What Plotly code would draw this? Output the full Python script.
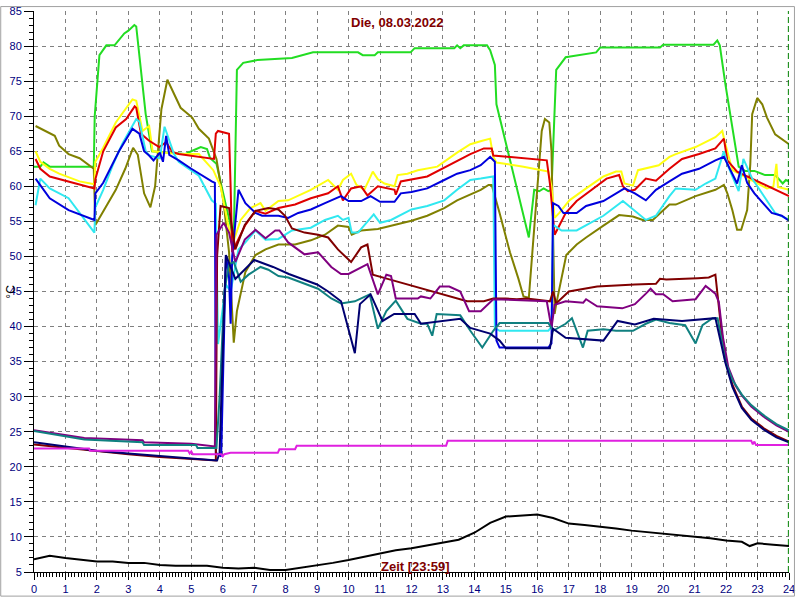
import plotly.graph_objects as go

# ---------------- data (hour of day, °C) ----------------
green_t = [0, 0.2, 0.3, 0.5, 1.9, 1.93, 2.08, 2.3, 2.56, 2.7, 2.87, 3.0, 3.19, 3.25, 3.55, 3.75, 4.8, 5.0, 5.3, 5.5, 5.6, 5.8, 6.2, 6.35, 6.45, 6.65, 7.1, 8.2, 8.87, 10.3, 10.45, 10.83, 10.93, 11.97, 12.1, 13.36, 13.45, 13.55, 13.66, 14.4, 14.5, 14.65, 14.7, 15.73, 15.9, 16.06, 16.2, 16.35, 16.45, 16.6, 16.9, 17.87, 18.0, 19.9, 20.0, 21.6, 21.72, 21.8, 21.98, 22.4, 22.6, 22.9, 23.24, 23.56, 23.8, 23.9, 24]
green_v = [62.8, 62.8, 63.4, 62.8, 62.8, 70, 78.7, 80.1, 80.1, 80.8, 81.8, 82.2, 83, 82.8, 70.3, 65, 64.6, 65, 65.6, 65.3, 64, 63.2, 55.2, 52.4, 76.6, 77.6, 78, 78.3, 79.1, 79.1, 78.7, 78.7, 79.1, 79.1, 79.7, 79.7, 80.1, 79.7, 80.1, 80.1, 79.4, 77.3, 71.7, 52.7, 59.5, 59.3, 59.7, 59.3, 59.5, 76.6, 78.4, 79.1, 79.8, 79.8, 80.2, 80.2, 80.8, 80.1, 74.5, 62.8, 62.2, 62.2, 61.6, 61.6, 60.4, 60.9, 60.7]

yellow_t = [0.05, 0.2, 0.5, 0.8, 1.45, 1.92, 1.95, 2.2, 2.6, 2.93, 3.13, 3.25, 3.45, 3.66, 3.77, 4.6, 5.24, 5.7, 5.93, 6.3, 6.57, 6.88, 7.2, 7.36, 7.77, 8.08, 8.8, 9.35, 9.66, 9.82, 10.08, 10.25, 10.5, 10.77, 10.93, 11.14, 11.46, 11.56, 11.87, 12.2, 12.82, 13.45, 13.87, 14.25, 14.5, 14.6, 14.7, 15.56, 16.35, 16.45, 16.55, 16.7, 17.02, 17.55, 18.1, 18.5, 18.67, 18.77, 19.04, 19.2, 19.45, 19.86, 20.2, 20.4, 21.03, 21.66, 21.88, 21.95, 22.2, 22.7, 23.03, 23.3, 23.5, 23.6, 23.65, 24]
yellow_v = [65, 63.5, 62.5, 61.8, 60.7, 60.3, 63.5, 65.5, 69.1, 71.2, 72.4, 72.2, 67.9, 68.6, 65, 64.6, 64.6, 62.3, 60, 51.6, 55.2, 56.9, 57.6, 56.5, 57.9, 58, 59.5, 60.9, 59.5, 60.9, 61.8, 60.2, 59.5, 62.1, 61, 60.4, 60, 61.6, 61.8, 62.3, 62.8, 64.8, 66, 66.5, 66.8, 64.2, 63.4, 62.8, 62.1, 60, 55.5, 56.2, 58, 59.7, 61.4, 62.1, 62.1, 60.4, 60.1, 62.3, 62.6, 63, 64.2, 64.6, 65.6, 67, 67.9, 66.5, 62.3, 61.1, 60.4, 59.7, 59.9, 63.2, 59.9, 59.5]

red_t = [0.05, 0.2, 0.5, 1.1, 1.92, 1.95, 2.2, 2.6, 2.93, 3.2, 3.25, 3.4, 3.66, 3.98, 4.2, 4.4, 4.6, 5.72, 5.78, 5.85, 6.2, 6.25, 6.3, 6.72, 7.04, 7.36, 7.77, 8.3, 8.8, 9.35, 9.66, 9.82, 10.08, 10.4, 10.6, 10.93, 11.46, 11.5, 11.66, 12.5, 13.45, 13.87, 14.3, 14.55, 14.6, 16.3, 16.4, 16.55, 16.7, 16.9, 17.25, 17.77, 18.2, 18.6, 18.72, 18.88, 19.1, 19.45, 19.77, 20.2, 20.6, 21.14, 21.66, 21.93, 22.04, 22.35, 23.03, 23.56, 24]
red_v = [63.9, 62.5, 61.4, 60.7, 59.7, 61, 65, 68.4, 69.6, 71.4, 71.2, 67.5, 66.5, 65.6, 66.3, 64.9, 64.6, 63.9, 67.5, 67.9, 67.5, 60, 50.6, 54.5, 56.5, 56.1, 56.9, 57.4, 58.3, 59, 60, 58, 59.7, 60, 58.7, 60, 59.5, 58.8, 60.7, 61.4, 63.7, 64.6, 65.4, 65.4, 64.4, 63.7, 60.4, 53.1, 54.4, 56.2, 57.9, 59.7, 61.1, 61.6, 60, 59.3, 59.5, 61.1, 60.8, 62.5, 63.9, 64.6, 65.4, 66.8, 63.7, 62.1, 60.7, 59.5, 58.6]

blue_t = [0.05, 0.5, 1.1, 1.92, 1.95, 2.2, 2.7, 3.13, 3.35, 3.5, 3.66, 3.8, 4.0, 4.1, 4.2, 4.3, 4.6, 5.0, 5.65, 5.75, 5.78, 5.95, 6.1, 6.2, 6.25, 6.3, 6.5, 6.72, 7.04, 7.25, 7.77, 8.08, 8.4, 8.8, 9.25, 9.76, 10.0, 10.4, 10.7, 11.0, 11.46, 11.66, 12.0, 12.5, 13.04, 13.45, 13.87, 14.2, 14.5, 14.65, 14.7, 14.8, 16.35, 16.45, 16.5, 16.67, 16.83, 17.25, 17.55, 18.1, 18.77, 19.1, 19.45, 19.77, 20.2, 20.6, 21.14, 21.66, 21.93, 22.35, 22.5, 22.67, 22.9, 23.45, 23.77, 24]
blue_v = [61.1, 58.3, 56.6, 55.2, 59, 60.5, 65, 68.2, 67.5, 65, 64.4, 63.7, 64.8, 63.5, 67.2, 64.5, 63.7, 62.5, 60.7, 60.5, 22, 21.5, 50.2, 47, 40.4, 50, 59.5, 57.6, 56.2, 55.8, 55.8, 55.5, 56.2, 56.7, 57.6, 58.6, 57.9, 57.9, 58.6, 57.8, 57.8, 59, 59.2, 59.7, 60.9, 61.8, 62.3, 63, 64.2, 63.5, 38, 37, 37, 37.6, 57.6, 57.2, 56.2, 56.2, 57.2, 57.9, 59.7, 59, 58, 59.5, 60.7, 61.8, 62.5, 63.7, 64.2, 60.4, 63, 60.5, 59, 56.2, 55.8, 55.1]

cyan_t = [0.05, 0.2, 0.5, 1.1, 1.92, 1.95, 2.2, 2.5, 2.8, 3.1, 3.25, 3.35, 3.55, 3.66, 4.0, 4.15, 4.45, 4.6, 5.24, 5.65, 5.78, 5.85, 6.1, 6.25, 6.5, 6.72, 7.04, 7.36, 7.77, 8.2, 8.8, 9.25, 9.66, 9.82, 10.0, 10.1, 10.3, 10.8, 11.0, 11.35, 12.0, 12.5, 13.04, 13.45, 13.87, 14.2, 14.5, 14.6, 14.65, 14.8, 16.35, 16.45, 16.5, 16.77, 17.25, 17.55, 18.1, 18.72, 19.1, 19.45, 19.77, 20.2, 20.4, 21.03, 21.35, 21.66, 21.93, 22.07, 22.4, 22.55, 22.83, 23.24, 23.56, 24]
cyan_v = [57.3, 61.1, 59.7, 58.3, 53.4, 57, 59.5, 63, 66, 68.5, 69.6, 69.2, 65, 64.4, 64, 68.5, 64.6, 63.5, 61.5, 58, 57.5, 37.5, 46, 45, 51, 52, 53.7, 52.4, 52.5, 53.7, 54.1, 55.2, 55.8, 55.2, 55.5, 53.4, 53.4, 56, 54.8, 55.2, 56.7, 57.2, 58, 59.5, 60.9, 61.1, 61.4, 61.4, 39.8, 39.4, 39.4, 40, 54.5, 53.7, 53.7, 54.4, 55.8, 57.9, 56.5, 55.2, 55.8, 58.6, 59.7, 59.5, 60.4, 61.1, 65, 62.8, 59.3, 63.9, 61.1, 58.3, 56.2, 55.2]

olive_t = [0.05, 0.5, 0.66, 0.8, 1.1, 1.45, 1.9, 1.95, 2.2, 2.6, 2.9, 3.15, 3.3, 3.5, 3.7, 3.85, 4.05, 4.24, 4.66, 5.03, 5.24, 5.56, 5.8, 6.03, 6.2, 6.35, 6.45, 6.72, 7.04, 7.36, 7.77, 8.3, 8.8, 9.25, 9.66, 10.0, 10.1, 10.4, 10.93, 11.46, 12.0, 12.5, 13.04, 13.45, 13.87, 14.2, 14.45, 14.55, 14.8, 15.13, 15.4, 15.56, 15.73, 15.88, 16.04, 16.14, 16.24, 16.38, 16.45, 16.55, 16.6, 16.77, 16.92, 17.25, 17.55, 18.1, 18.6, 19.04, 19.35, 19.67, 20.2, 20.4, 21.03, 21.66, 21.93, 22.04, 22.2, 22.35, 22.48, 22.67, 22.77, 22.83, 22.99, 23.15, 23.3, 23.56, 24]
olive_v = [68.6, 67.5, 67.2, 65.8, 64.6, 64, 62.5, 54.5, 56.5, 59.5, 62.5, 65.5, 64.5, 59, 57, 60, 71, 75.2, 71.2, 69.8, 68.2, 66.8, 63.9, 57.6, 50.6, 37.7, 42.2, 47.8, 50.2, 51, 51.7, 51.7, 52.3, 53.1, 54.4, 54.2, 53.1, 53.7, 53.9, 54.5, 55.1, 55.8, 56.9, 58, 58.8, 59.5, 60.2, 60.2, 56.2, 50.6, 46.8, 44.3, 44.1, 53, 62.3, 67.9, 69.6, 69.1, 65, 41.8, 43.2, 46.8, 50.2, 51.7, 52.7, 54.4, 55.9, 55.7, 55.2, 55.2, 57.4, 57.4, 58.6, 59.5, 60.2, 59, 56.6, 53.8, 53.8, 56.6, 63.2, 70.3, 72.6, 71.7, 69.8, 67.4, 66]

maroon_t = [0, 1, 2, 3, 4, 5, 5.78, 5.82, 5.93, 6.2, 6.4, 6.7, 7.04, 7.45, 7.77, 7.98, 8.2, 8.6, 9.03, 9.35, 9.66, 10.08, 10.4, 10.6, 10.77, 11.24, 13.77, 14.3, 14.6, 15.0, 15.35, 15.66, 16.4, 16.5, 16.6, 17.0, 17.45, 17.9, 19.1, 19.77, 19.9, 20.1, 21.1, 21.45, 21.66, 21.72, 21.85, 22.0, 22.2, 22.5, 22.8, 23.2, 23.6, 24]
maroon_v = [23.2, 22.7, 22.2, 21.8, 21.4, 21.1, 20.9, 50, 57.2, 56.9, 51, 54.5, 56.5, 56.9, 56.7, 55.8, 54, 53.4, 53.1, 52.7, 51, 49.2, 51.3, 51.7, 47.4, 46.8, 43.6, 43.6, 44, 44, 43.9, 44, 43.6, 45, 43.3, 45, 45.4, 45.7, 46, 46.1, 46.8, 46.7, 46.9, 47, 47.4, 44.6, 39.5, 35, 31.7, 28.6, 26.9, 25.5, 24.4, 23.6]

purple_t = [0, 0.9, 1.6, 3.45, 3.5, 5.0, 5.7, 5.75, 5.8, 6.03, 6.2, 6.4, 6.7, 7.04, 7.36, 7.67, 7.8, 8.08, 8.6, 9.03, 9.45, 9.76, 10.0, 10.6, 10.93, 11.2, 11.35, 11.5, 12.2, 12.3, 12.6, 12.9, 13.2, 13.55, 13.83, 14.2, 14.6, 16.3, 16.45, 16.55, 16.9, 17.46, 17.55, 17.9, 18.7, 19.1, 19.45, 19.6, 19.77, 20.0, 20.3, 21.03, 21.35, 21.66, 21.77, 21.9, 22.07, 22.3, 22.5, 22.8, 23.24, 23.6, 24]
purple_v = [25.2, 24.6, 24.1, 23.8, 23.5, 23.3, 22.9, 22.9, 53.1, 54.8, 53.4, 49.2, 52.4, 53.8, 52.6, 53.7, 53.7, 52, 50.3, 50.6, 48.5, 47.5, 47.5, 48.9, 44.6, 47.4, 47.2, 44, 44, 44.3, 44, 45.7, 45.7, 45, 42.2, 42.2, 43.9, 43.6, 39.8, 43.1, 43.6, 43.4, 43.9, 42.9, 42.6, 43.2, 44.7, 45.4, 44.6, 44.6, 43.6, 43.9, 45.8, 44.7, 43.5, 38.5, 34.2, 31.6, 30.2, 28.6, 27.0, 25.9, 25.0]

teal_t = [0, 0.9, 1.6, 3.45, 3.5, 5.15, 5.2, 5.8, 5.9, 6.05, 6.2, 6.35, 6.57, 6.82, 7.2, 7.45, 7.77, 8.08, 8.6, 9.03, 9.45, 9.76, 10.2, 10.67, 10.93, 11.2, 11.5, 11.87, 12.3, 12.5, 12.66, 12.8, 13.55, 13.87, 14.25, 14.6, 14.8, 16.35, 16.5, 16.9, 17.1, 17.45, 17.6, 18.1, 18.5, 19.04, 19.45, 19.77, 20.2, 20.7, 21.03, 21.25, 21.57, 21.73, 21.85, 21.98, 22.2, 22.5, 22.8, 23.24, 23.6, 24]
teal_v = [25.1, 24.4, 23.9, 23.5, 23.1, 23.1, 22.7, 22.7, 30, 45, 48.9, 49.2, 46.4, 47.4, 48.5, 48.1, 47.2, 47, 46.1, 45.4, 44, 43.3, 43.6, 44.6, 39.7, 42.2, 43.7, 41.1, 40.4, 40.4, 38.7, 41.8, 41.6, 39.4, 37, 39.4, 40.5, 40.5, 39.4, 40.4, 41.2, 37, 39.4, 39.6, 39.4, 39.4, 40.4, 41, 40.5, 40.2, 37.6, 40.2, 41.2, 41.2, 38.2, 35.0, 32.4, 30.3, 28.8, 27.2, 26.1, 25.2]

navy_t = [0, 1, 2, 3, 4, 5, 5.82, 5.9, 6.1, 6.4, 7.0, 7.6, 8.1, 9.0, 9.35, 9.76, 10.2, 10.36, 10.7, 11.08, 11.45, 12.1, 12.3, 13.55, 13.87, 14.5, 14.8, 15.0, 16.4, 16.5, 16.9, 18.1, 18.55, 19.1, 19.7, 20.6, 21.66, 21.8, 21.98, 22.2, 22.5, 22.8, 23.2, 23.6, 24]
navy_v = [23.5, 22.9, 22.3, 21.9, 21.5, 21.2, 20.9, 22, 50.2, 46.8, 49.5, 48.5, 47.5, 46, 45, 43.6, 36.2, 43.2, 44.6, 40.8, 41.8, 41.8, 40.4, 41.1, 39.8, 39, 38, 36.9, 36.9, 39.7, 38.4, 38, 40.8, 40.3, 41.1, 40.8, 41.2, 38.5, 34.8, 31.4, 28.4, 26.7, 25.3, 24.2, 23.5]

magenta_t = [0, 1.75, 1.78, 4.9, 4.95, 5.0, 5.05, 5.95, 6.0, 6.05, 6.25, 7.75, 7.8, 8.3, 8.35, 13.1, 13.15, 22.8, 22.85, 22.9, 22.95, 24]
magenta_v = [22.6, 22.6, 22.3, 22.3, 21.9, 22.2, 21.8, 21.8, 21.5, 21.8, 22.0, 22.0, 22.5, 22.5, 23.0, 23.0, 23.7, 23.7, 23.2, 23.6, 23.1, 23.1]

black_t = [0, 0.5, 1, 1.5, 2, 2.5, 3, 3.5, 4, 4.5, 5, 5.5, 6, 6.5, 7, 7.5, 8, 8.5, 9, 9.5, 10, 10.5, 11, 11.5, 12, 12.5, 13, 13.5, 14, 14.5, 15, 15.5, 16, 16.5, 17, 17.5, 18, 18.5, 19, 19.5, 20, 20.5, 21, 21.5, 22, 22.5, 22.75, 23, 23.5, 24]
black_v = [6.8, 7.3, 7.0, 6.8, 6.5, 6.5, 6.3, 6.3, 6.0, 5.9, 5.9, 5.9, 5.6, 5.5, 5.6, 5.3, 5.3, 5.6, 5.9, 6.3, 6.7, 7.2, 7.7, 8.1, 8.4, 8.8, 9.1, 9.6, 10.6, 12.0, 12.9, 13.1, 13.2, 12.7, 11.9, 11.7, 11.5, 11.2, 10.9, 10.7, 10.5, 10.3, 10.1, 9.8, 9.5, 9.3, 8.7, 9.1, 8.9, 8.7]

title_text = "Die, 08.03.2022"
xlabel_text = "Zeit [23:59]"
ylabel_text = "°C"
now_hour = 23.98

series = [
    (green_t, green_v, "#22DD22"),
    (olive_t, olive_v, "#808000"),
    (yellow_t, yellow_v, "#FFFF10"),
    (red_t, red_v, "#E00000"),
    (cyan_t, cyan_v, "#30E8F0"),
    (blue_t, blue_v, "#0000DD"),
    (maroon_t, maroon_v, "#800000"),
    (purple_t, purple_v, "#800080"),
    (teal_t, teal_v, "#108080"),
    (navy_t, navy_v, "#000070"),
    (magenta_t, magenta_v, "#E020E0"),
    (black_t, black_v, "#000000"),
]

fig = go.Figure()
for t, v, c in series:
    fig.add_trace(go.Scatter(x=t, y=v, mode="lines", line=dict(color=c, width=2),
                             hoverinfo="skip", showlegend=False))

axis_font = dict(family="Arial, Liberation Sans, sans-serif", size=11, color="#000080")
fig.update_xaxes(range=[0, 24], dtick=1, tick0=0, showline=True, linecolor="black", linewidth=1,
                 ticks="outside", ticklen=7, tickcolor="black", tickfont=axis_font,
                 ticklabeloverflow="allow",
                 showgrid=True, gridcolor="#808080", griddash="4px,4px", gridwidth=1,
                 zeroline=False,
                 minor=dict(dtick=0.1, ticks="outside", ticklen=4, tickcolor="black", showgrid=False))
fig.update_yaxes(range=[5, 85], dtick=5, tick0=5, showline=True, linecolor="black", linewidth=1,
                 ticks="outside", ticklen=9, tickcolor="black", tickfont=axis_font,
                 ticklabeloverflow="allow",
                 showgrid=True, gridcolor="#808080", griddash="4px,4px", gridwidth=1,
                 zeroline=False,
                 minor=dict(dtick=1, ticks="outside", ticklen=4, tickcolor="black", showgrid=False))

fig.add_shape(type="line", xref="x", yref="paper", x0=now_hour, x1=now_hour, y0=0, y1=1,
              line=dict(color="#008000", width=1, dash="6px,3px"))
fig.add_shape(type="rect", xref="paper", yref="paper",
              x0=-33.5/760, x1=1+5.5/760, y0=-24.5/570, y1=1+4.5/570,
              line=dict(color="#A0A0A0", width=1))

lab_font = dict(family="Arial, Liberation Sans, sans-serif", size=13, color="#800000")
fig.add_annotation(text="<b>" + title_text + "</b>", xref="paper", yref="paper",
                   x=(400-34)/760, y=1-(17-5)/570, showarrow=False, font=lab_font,
                   xanchor="center", yanchor="middle")
fig.add_annotation(text="<b>" + xlabel_text + "</b>", xref="paper", yref="paper",
                   x=(418-34)/760, y=1-(569-5)/570, showarrow=False, font=lab_font,
                   xanchor="center", yanchor="middle")
fig.add_annotation(text=ylabel_text, xref="paper", yref="paper",
                   x=(10-34)/760, y=1-(290-5)/570, showarrow=False, textangle=-90,
                   font=dict(family="Arial, Liberation Sans, sans-serif", size=12, color="#000000"),
                   xanchor="center", yanchor="middle")

fig.update_layout(width=800, height=600, margin=dict(l=34, r=6, t=5, b=25, pad=0),
                  paper_bgcolor="white", plot_bgcolor="white", showlegend=False)

fig.write_html("out.html", config={"displayModeBar": False},
               post_script="document.body.style.margin='0';document.body.style.overflow='hidden';")
